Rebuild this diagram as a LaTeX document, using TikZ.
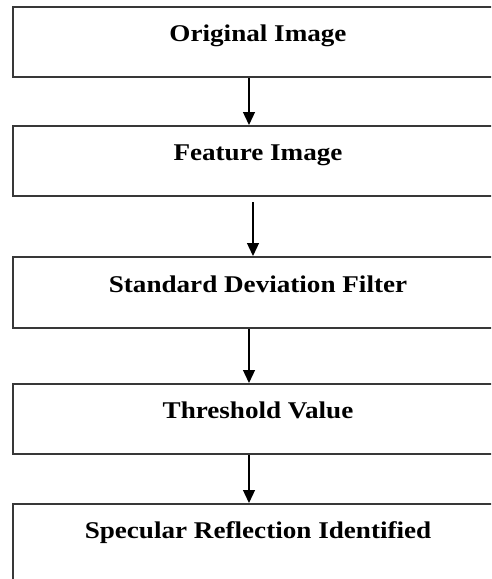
\documentclass[tikz,border=0pt]{standalone}
\usepackage{fontspec}
\setmainfont{Liberation Serif}
\usetikzlibrary{arrows.meta}
\tikzset{
  stagebox/.style={draw=black!78, line width=2pt, rectangle,
    minimum width=490pt, anchor=north west, inner sep=0pt,
    text height=16pt, text depth=17pt,
    font=\fontsize{24pt}{26pt}\selectfont\bfseries},
  flow/.style={draw=black, line width=1.3pt,
    -{Triangle[width=12pt,length=13pt]}},
}
\newcommand{\wide}[1]{\scalebox{1.13}[1]{#1}}
\begin{document}
\begin{tikzpicture}[x=1pt,y=-1pt]
  \useasboundingbox (0,0) rectangle (491,579);
  \clip (0,0) rectangle (491,579);
  \node[stagebox, minimum height=70pt] (orig) at (12,6) {\wide{Original Image}};
  \node[stagebox, minimum height=70pt] (feat) at (12,125) {\wide{Feature Image}};
  \node[stagebox, minimum height=71pt] (sdf) at (12,256) {\wide{Standard Deviation Filter}};
  \node[stagebox, minimum height=70pt] (thr) at (12,383) {\wide{Threshold Value}};
  \node[stagebox, minimum height=110pt, text depth=57pt] (spec) at (12,503) {\wide{Specular Reflection Identified}};
  \coordinate (s2) at (253,202);
  \draw[flow] (orig.south -| 249,0) -- (feat.north -| 249,0);
  \draw[flow] (s2) -- (s2 |- sdf.north);
  \draw[flow] (sdf.south -| 249,0) -- (thr.north -| 249,0);
  \draw[flow] (thr.south -| 249,0) -- (spec.north -| 249,0);
\end{tikzpicture}
\end{document}
